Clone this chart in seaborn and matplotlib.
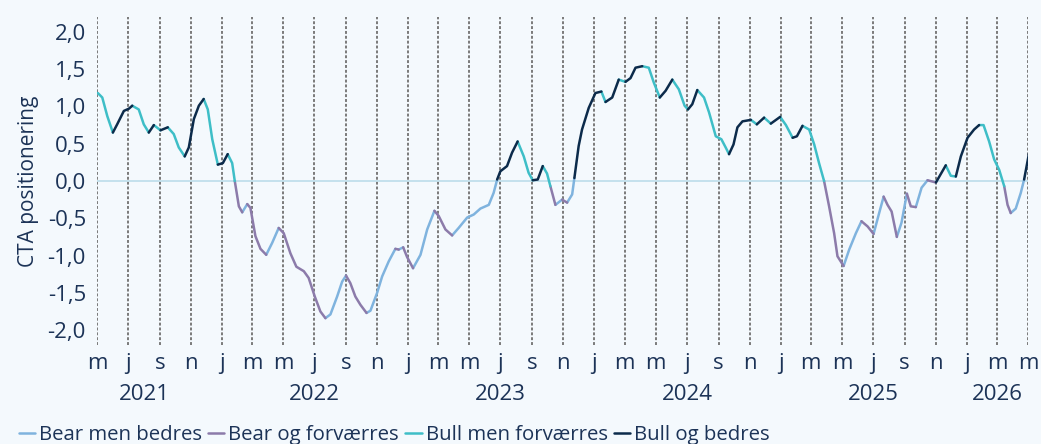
import matplotlib
matplotlib.use("Agg")
import matplotlib.pyplot as plt
import matplotlib.transforms as mtransforms
import numpy as np
import pandas as pd
import seaborn as sns

# CTA positioning (time as decimal years)
years = [
    2021.333, 2021.357, 2021.384, 2021.414, 2021.437, 2021.473, 2021.500, 2021.518,
    2021.553, 2021.580, 2021.607, 2021.634, 2021.670, 2021.709, 2021.741, 2021.768,
    2021.800, 2021.822, 2021.849, 2021.876, 2021.902, 2021.924, 2021.948, 2021.978,
    2022.005, 2022.031, 2022.055, 2022.069, 2022.091, 2022.109, 2022.136, 2022.153,
    2022.180, 2022.207, 2022.238, 2022.270, 2022.305, 2022.332, 2022.368, 2022.400,
    2022.440, 2022.466, 2022.499, 2022.529, 2022.556, 2022.583, 2022.619, 2022.646,
    2022.667, 2022.690, 2022.717, 2022.744, 2022.777, 2022.798, 2022.834, 2022.861,
    2022.896, 2022.932, 2022.950, 2022.974, 2022.995, 2023.027, 2023.067, 2023.103,
    2023.142, 2023.165, 2023.201, 2023.237, 2023.272, 2023.318, 2023.353, 2023.389,
    2023.434, 2023.460, 2023.479, 2023.496, 2023.532, 2023.559, 2023.589, 2023.622,
    2023.648, 2023.670, 2023.697, 2023.724, 2023.747, 2023.765, 2023.792, 2023.828,
    2023.855, 2023.882, 2023.894, 2023.917, 2023.935, 2023.971, 2024.007, 2024.039,
    2024.061, 2024.097, 2024.132, 2024.168, 2024.195, 2024.222, 2024.258, 2024.293,
    2024.320, 2024.352, 2024.383, 2024.419, 2024.454, 2024.485, 2024.503, 2024.526,
    2024.553, 2024.589, 2024.616, 2024.652, 2024.682, 2024.705, 2024.723, 2024.747,
    2024.768, 2024.795, 2024.840, 2024.872, 2024.911, 2024.947, 2024.997, 2025.028,
    2025.064, 2025.087, 2025.117, 2025.153, 2025.180, 2025.206, 2025.233, 2025.260,
    2025.287, 2025.305, 2025.338, 2025.368, 2025.404, 2025.434, 2025.467, 2025.499,
    2025.529, 2025.553, 2025.574, 2025.596, 2025.624, 2025.649, 2025.678, 2025.699,
    2025.726, 2025.757, 2025.789, 2025.834, 2025.887, 2025.914, 2025.941, 2025.968,
    2026.004, 2026.039, 2026.066, 2026.090, 2026.120, 2026.147, 2026.174, 2026.201,
    2026.219, 2026.236, 2026.263, 2026.290, 2026.308, 2026.335,
]
values = [
    1.18, 1.12, 0.87, 0.65, 0.76, 0.94, 0.97, 1.01,
    0.96, 0.76, 0.65, 0.75, 0.68, 0.72, 0.63, 0.45,
    0.33, 0.45, 0.83, 1.01, 1.10, 0.96, 0.56, 0.22,
    0.24, 0.36, 0.24, 0.00, -0.34, -0.42, -0.31, -0.36,
    -0.74, -0.91, -0.99, -0.83, -0.63, -0.70, -0.97, -1.15,
    -1.21, -1.30, -1.55, -1.75, -1.84, -1.79, -1.55, -1.35,
    -1.27, -1.37, -1.55, -1.66, -1.77, -1.74, -1.50, -1.28,
    -1.08, -0.91, -0.92, -0.89, -1.02, -1.17, -0.99, -0.65,
    -0.40, -0.47, -0.65, -0.73, -0.63, -0.49, -0.45, -0.37,
    -0.32, -0.16, 0.02, 0.13, 0.20, 0.38, 0.53, 0.33,
    0.11, 0.01, 0.02, 0.20, 0.10, -0.07, -0.32, -0.25,
    -0.29, -0.18, 0.04, 0.47, 0.69, 0.98, 1.18, 1.20,
    1.06, 1.12, 1.36, 1.33, 1.38, 1.52, 1.54, 1.52,
    1.32, 1.12, 1.21, 1.36, 1.23, 1.01, 0.96, 1.03,
    1.22, 1.12, 0.92, 0.60, 0.56, 0.45, 0.36, 0.49,
    0.72, 0.80, 0.82, 0.76, 0.85, 0.77, 0.86, 0.75,
    0.58, 0.60, 0.74, 0.69, 0.49, 0.24, 0.00, -0.34,
    -0.70, -1.01, -1.14, -0.92, -0.70, -0.54, -0.61, -0.71,
    -0.43, -0.21, -0.32, -0.41, -0.75, -0.56, -0.17, -0.34,
    -0.35, -0.09, 0.01, -0.02, 0.21, 0.07, 0.06, 0.33,
    0.58, 0.69, 0.75, 0.75, 0.53, 0.29, 0.15, -0.07,
    -0.32, -0.43, -0.37, -0.16, 0.02, 0.38,
]

regimes = ["Bear men bedres", "Bear og forværres", "Bull men forværres", "Bull og bedres"]
regime_colors = ["#7FB3DE", "#8C7BAA", "#3EBEC7", "#0C2B4B"]

month_letters = ["j", "f", "m", "a", "m", "j", "j", "a", "s", "o", "n", "d"]
year_labels = ["2021", "2022", "2023", "2024", "2025", "2026"]
year_label_dates = ["2021-08-01", "2022-07-01", "2023-07-01", "2024-07-01", "2025-07-01", "2026-03-01"]
y_ticks = [-2.0, -1.5, -1.0, -0.5, 0.0, 0.5, 1.0, 1.5, 2.0]


def to_date(y):
    yr = int(y)
    start = pd.Timestamp(yr, 1, 1)
    ndays = (pd.Timestamp(yr + 1, 1, 1) - start).days
    return start + pd.Timedelta(days=(y - yr) * ndays)


dates = [to_date(y) for y in years]

# colour each stretch by level (bull/bear) and direction (better/worse)
seg_regime = []
for i in range(len(values) - 1):
    mid = (values[i] + values[i + 1]) / 2
    rising = values[i + 1] > values[i]
    if mid >= 0:
        seg_regime.append(regimes[3] if rising else regimes[2])
    else:
        seg_regime.append(regimes[0] if rising else regimes[1])

rows = []
run = 0
for i, reg in enumerate(seg_regime):
    if i > 0 and reg != seg_regime[i - 1]:
        run += 1
    for j in (i, i + 1):
        rows.append({"date": dates[j], "value": values[j], "regime": reg, "run": run, "order": j})
df = pd.DataFrame(rows).drop_duplicates(subset=["run", "order"])

bg = "#F4F9FD"
text_color = "#1C3357"

sns.set_theme(style="white")
plt.rcParams["font.family"] = ["Open Sans", "DejaVu Sans"]

fig = plt.figure(figsize=(10.41, 4.44), dpi=100, facecolor=bg)
ax = fig.add_axes([0.0932, 0.223, 0.8943, 0.7387])
ax.set_facecolor(bg)

sns.lineplot(data=df, x="date", y="value", hue="regime", hue_order=regimes,
             palette=regime_colors, units="run", estimator=None, sort=False,
             linewidth=1.8, solid_joinstyle="round", solid_capstyle="round", ax=ax)

start, end = pd.Timestamp("2021-05-01"), pd.Timestamp("2026-05-01")
ticks = pd.date_range(start, end, freq="2MS")
ax.set_xlim(start, end)
ax.set_ylim(-2.2, 2.2)

ax.set_xticks(ticks)
ax.set_xticklabels([month_letters[t.month - 1] for t in ticks], fontsize=16, color=text_color)
ax.set_yticks(y_ticks)
ax.set_yticklabels([f"{v:.1f}".replace(".", ",") for v in y_ticks], fontsize=16, color=text_color)
ax.tick_params(axis="both", length=0)
ax.tick_params(axis="x", pad=6)
ax.tick_params(axis="y", pad=8)

for t in ticks:
    ax.axvline(t, color="#7A7A7A", linewidth=1.4, linestyle=(0, (1.5, 1.0)), zorder=0)
ax.axhline(0, color="#BCDDEA", linewidth=1.2, zorder=0)

for s in ax.spines.values():
    s.set_visible(False)

ax.set_xlabel("")
ax.set_ylabel("CTA positionering", fontsize=15, color=text_color, labelpad=6)

trans = mtransforms.blended_transform_factory(ax.transData, ax.transAxes)
for lab, d in zip(year_labels, year_label_dates):
    ax.text(pd.Timestamp(d), -0.152, lab, transform=trans, ha="center", va="center",
            fontsize=16, color=text_color)

handles, labels = ax.get_legend_handles_labels()
ax.get_legend().remove()
fig.legend(handles, labels, loc="center left", bbox_to_anchor=(0.008, 0.02),
           ncol=4, frameon=False, fontsize=14.7, handlelength=0.8, handletextpad=0.2,
           columnspacing=0.3, borderpad=0, labelcolor=text_color)

fig.savefig("out.png", dpi=100, facecolor=bg)
